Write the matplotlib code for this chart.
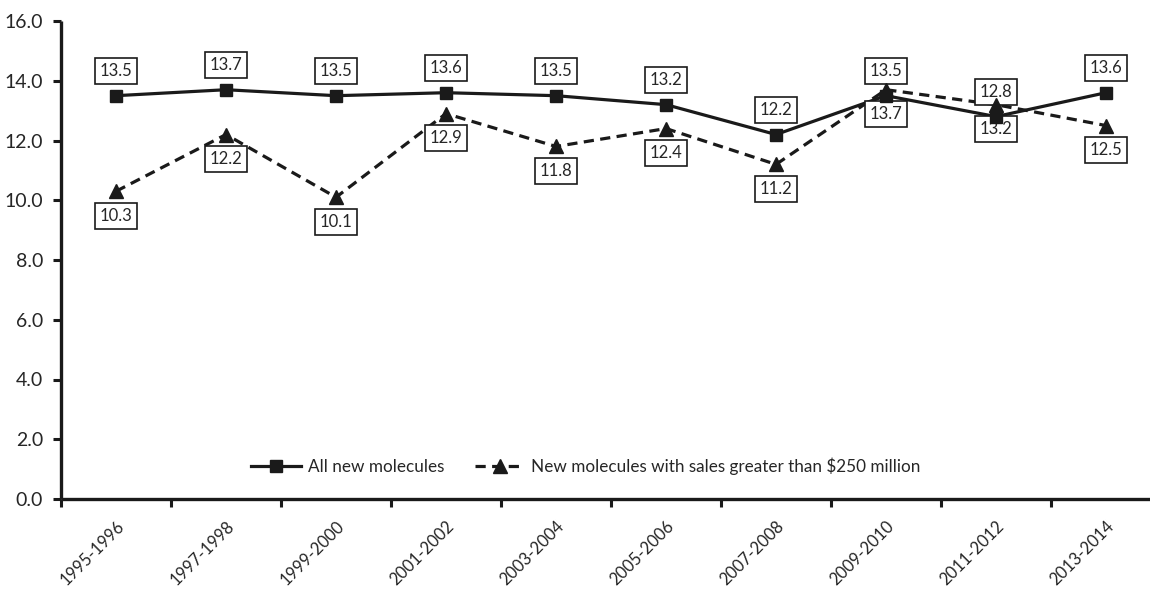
import matplotlib
matplotlib.use("Agg")
import matplotlib.pyplot as plt
from matplotlib.lines import Line2D

plt.rcParams['font.family'] = ['Lato', 'DejaVu Sans']

categories = ["1995-1996", "1997-1998", "1999-2000", "2001-2002", "2003-2004",
              "2005-2006", "2007-2008", "2009-2010", "2011-2012", "2013-2014"]
all_new = [13.5, 13.7, 13.5, 13.6, 13.5, 13.2, 12.2, 13.5, 12.8, 13.6]
high_sales = [10.3, 12.2, 10.1, 12.9, 11.8, 12.4, 11.2, 13.7, 13.2, 12.5]
yticks = [0, 2, 4, 6, 8, 10, 12, 14, 16]

series_names = ["All new molecules", "New molecules with sales greater than $250 million"]

TXT = '#262626'
AX = '#1a1a1a'
LINE = '#1a1a1a'

fig = plt.figure(figsize=(11.5, 5.92), dpi=100)
ax = fig.add_axes([61 / 1150, (592 - 499) / 592, 1100 / 1150, 478 / 592])

x = list(range(len(categories)))
dash = (0, (3.2, 2.0))

# lines (below labels)
ax.plot(x, all_new, color=LINE, lw=2.3, solid_joinstyle='miter', zorder=2)
ax.plot(x, high_sales, color=LINE, lw=2.3, linestyle=dash, zorder=2)
# markers (above labels)
ax.plot(x, all_new, linestyle='none', marker='s', ms=8.8, color=LINE, zorder=4)
ax.plot(x, high_sales, linestyle='none', marker='^', ms=9.5, color=LINE, zorder=4)

bbox = dict(boxstyle='square,pad=0.3', fc='white', ec=AX, lw=1.2)
for i, v in enumerate(all_new):
    ax.annotate(f"{v:.1f}", (i, v), xytext=(0, 18), textcoords='offset points',
                ha='center', va='center', fontsize=12, color=TXT, bbox=bbox, zorder=3)
for i, v in enumerate(high_sales):
    ax.annotate(f"{v:.1f}", (i, v), xytext=(0, -17.5), textcoords='offset points',
                ha='center', va='center', fontsize=12, color=TXT, bbox=bbox, zorder=3)

ax.set_xlim(-0.5, len(categories) - 0.5)
ax.set_ylim(0, 16)
ax.set_yticks(yticks)
ax.set_yticklabels([f"{t:.1f}" for t in yticks])

# category boundaries as major ticks, labels at category centres
ax.set_xticks([i - 0.5 for i in range(len(categories) + 1)])
ax.set_xticklabels([])
ax.set_xticks(x, minor=True)
ax.set_xticklabels(categories, minor=True, rotation=45, ha='right',
                   rotation_mode='anchor', fontsize=12, color=TXT)
ax.tick_params(axis='x', which='minor', length=0, pad=14)
ax.tick_params(axis='x', which='major', length=6, width=2.2, color=AX, direction='out')
ax.tick_params(axis='y', length=6, width=2.2, color=AX, direction='out',
               labelsize=14, labelcolor=TXT, pad=7)

for s in ['top', 'right']:
    ax.spines[s].set_visible(False)
for s in ['left', 'bottom']:
    ax.spines[s].set_linewidth(2.4)
    ax.spines[s].set_color(AX)
    ax.spines[s].set_capstyle('butt')

handles = [
    Line2D([], [], color=LINE, lw=2.3, marker='s', ms=8.8),
    Line2D([], [], color=LINE, lw=2.3, linestyle=dash, marker='^', ms=9.5),
]
fig.legend(handles, series_names, loc='center', ncol=2, frameon=False,
           bbox_to_anchor=(586 / 1150, (592 - 466) / 592), fontsize=12.3,
           labelcolor=TXT, handlelength=2.9, handletextpad=0.4, columnspacing=1.8)

fig.savefig("out.png", dpi=100)
